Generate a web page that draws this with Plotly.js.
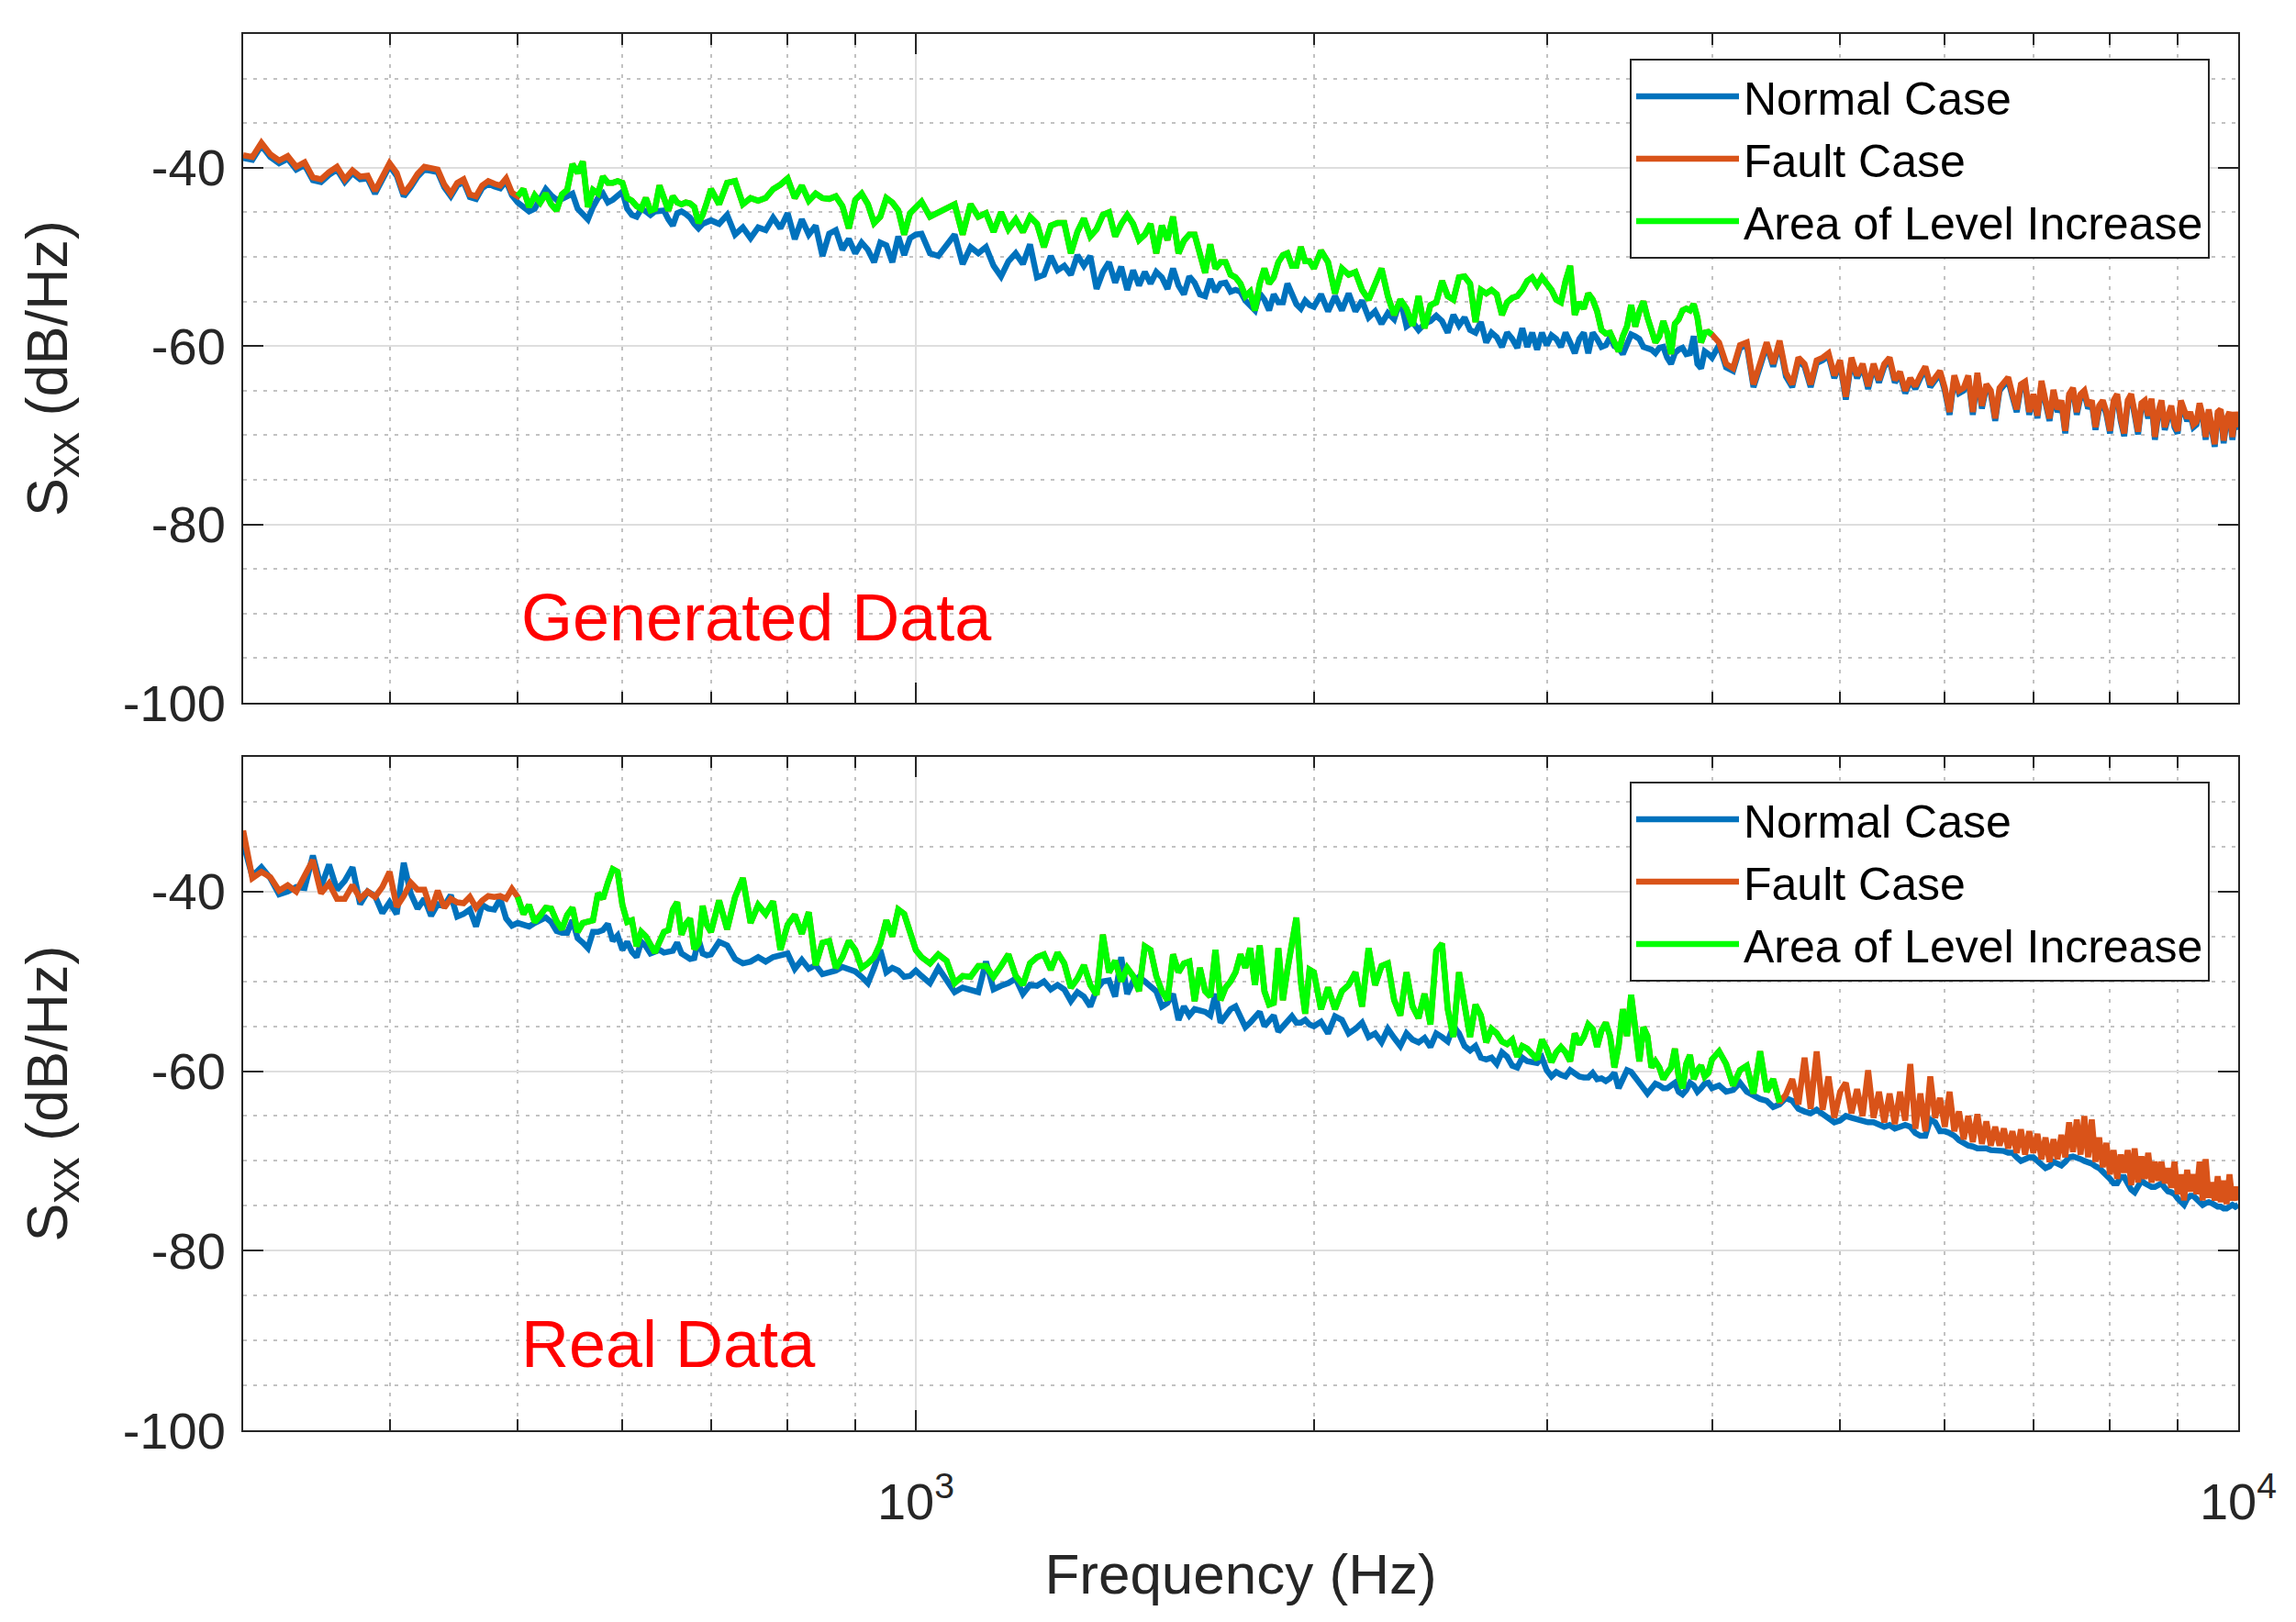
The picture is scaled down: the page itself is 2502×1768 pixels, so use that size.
<!DOCTYPE html>
<html>
<head>
<meta charset="utf-8">
<script src="https://cdn.plot.ly/plotly-3.0.1.min.js"></script>
<style>
html,body{margin:0;padding:0;background:#ffffff;}
#chart{width:2502px;height:1768px;}
</style>
</head>
<body>
<div id="chart"></div>
<script>
// ---------------- data ----------------
const freq = [
310,315,320,325,330,335,340,345,350,355,360,365,370,375,380,385,390,395,400,405,410,415,420,425,430,435,440,445,450,455,460,465,470,475,480,485,490,495,500,
505,510,515,520,525,530,535,540,545,550,555,560,565,570,575,580,585,590,595,600,605,610,615,620,625,630,635,640,645,650,655,660,665,670,675,680,685,690,695,700,
710,720,730,740,750,760,770,780,790,800,810,820,830,840,850,860,870,880,890,900,910,920,930,940,950,960,970,980,990,1000,
1010,1025,1040,1055,1070,1085,1100,1115,1130,1145,1160,1175,1190,1205,1220,1235,1250,1265,1280,1295,1310,1325,1340,1355,1370,1385,1400,1415,1430,1445,1460,1475,1490,1505,1520,1535,1550,1565,1580,1595,1610,1625,1640,1655,1670,1685,1700,1715,1730,1745,1760,1775,1790,1805,1820,1835,1850,1865,1880,1895,1910,1925,1940,1955,1970,1985,2000,
2025,2050,2075,2100,2125,2150,2175,2200,2225,2250,2275,2300,2325,2350,2375,2400,2425,2450,2475,2500,2525,2550,2575,2600,2625,2650,2675,2700,2725,2750,2775,2800,2825,2850,2875,2900,2925,2950,2975,3000,3025,3050,3075,3100,3125,3150,3175,3200,3225,3250,3275,3300,3325,3350,3375,3400,3425,3450,3475,3500,3525,3550,3575,3600,3625,3650,3675,3700,3725,3750,3775,3800,3825,3850,3875,3900,3925,3950,3975,4000,
4050,4100,4150,4200,4250,4300,4350,4400,4450,4500,4550,4600,4650,4700,4750,4800,4850,4900,4950,5000,5050,5100,5150,5200,5250,5300,5350,5400,5450,5500,5550,5600,5650,5700,5750,5800,5850,5900,5950,6000,6050,6100,6150,6200,6250,6300,6350,6400,6450,6500,6550,6600,6650,6700,6750,6800,6850,6900,6950,7000,7050,7100,7150,7200,7250,7300,7350,7400,7450,7500,7550,7600,7650,7700,7750,7800,7850,7900,7950,8000,8050,8100,8150,8200,8250,8300,8350,8400,8450,8500,8550,8600,8650,8700,8750,8800,8850,8900,8950,9000,9050,9100,9150,9200,9250,9300,9350,9400,9450,9500,9550,9600,9650,9700,9750,9800,9850,9900,9950,10000
];

// Generated data (top panel)
const normalGen = [
-38.9,-39.1,-37.5,-38.8,-39.5,-39.0,-40.2,-39.7,-41.4,-41.6,-40.8,-40.2,-41.6,-40.6,-41.3,-41.2,-42.9,-41.3,-39.8,-40.9,-43.2,-42.2,-41.0,-40.2,-40.3,-40.5,-42.2,-43.2,-42.0,-41.6,-43.3,-43.5,-42.3,-41.8,-42.1,-42.3,-41.5,-43.1,-43.9,
-44.4,-44.9,-44.6,-43.6,-42.4,-43.1,-43.6,-43.5,-43.2,-42.9,-44.6,-45.2,-45.8,-44.4,-43.4,-42.9,-43.9,-43.6,-43.2,-42.7,-44.6,-45.3,-45.5,-44.6,-44.9,-45.3,-44.9,-44.8,-44.8,-45.8,-46.5,-45.1,-44.9,-45.2,-45.6,-46.3,-46.8,-46.3,-46.1,-45.9,
-46.3,-45.3,-47.5,-46.7,-47.9,-46.7,-47.0,-45.6,-46.8,-45.1,-48.0,-45.8,-47.5,-46.5,-49.9,-47.4,-47.0,-49.2,-48.0,-49.6,-48.4,-49.2,-50.6,-48.4,-48.7,-50.6,-47.7,-49.8,-47.9,-47.5,
-47.4,-49.6,-49.9,-48.7,-47.5,-50.8,-48.9,-49.6,-48.9,-51.0,-52.2,-50.5,-49.6,-50.8,-48.6,-52.3,-52.0,-49.9,-51.5,-51.0,-52.0,-49.8,-51.0,-49.9,-53.6,-51.7,-50.6,-52.9,-51.1,-53.7,-51.5,-53.2,-51.7,-53.0,-51.7,-52.3,-53.6,-51.3,-53.2,-54.2,-52.2,-52.9,-54.2,-54.4,-52.5,-53.9,-53.0,-52.9,-53.9,-53.7,-53.9,-54.9,-55.4,-56.0,-54.1,-54.8,-56.0,-54.2,-55.1,-55.1,-53.0,-54.4,-55.3,-55.8,-54.9,-55.4,-55.6,
-54.2,-56.1,-54.4,-56.0,-54.1,-56.1,-54.9,-56.8,-56.1,-57.5,-56.3,-57.0,-54.8,-57.8,-57.3,-58.2,-57.5,-57.2,-56.6,-57.2,-58.5,-56.5,-57.7,-56.8,-58.2,-58.5,-57.3,-59.6,-58.5,-59.0,-60.1,-58.5,-59.2,-60.2,-58.0,-60.1,-58.5,-60.4,-58.5,-59.9,-58.8,-59.2,-60.1,-58.5,-59.6,-60.8,-59.2,-58.5,-60.8,-58.5,-59.2,-60.1,-59.9,-59.0,-60.0,-60.2,-60.9,-59.9,-58.7,-58.9,-59.2,-60.1,-60.2,-60.4,-60.8,-60.2,-60.1,-61.3,-62.0,-60.8,-60.4,-60.2,-60.9,-60.8,-58.9,-62.0,-62.5,-60.6,-60.9,-61.3,
-59.9,-62.4,-62.8,-60.2,-59.9,-64.6,-62.3,-59.9,-62.3,-59.7,-63.4,-64.6,-61.6,-62.3,-64.6,-61.9,-61.6,-61.1,-63.6,-61.9,-66.0,-61.6,-63.6,-62.3,-64.8,-62.3,-64.1,-62.3,-61.6,-64.1,-63.2,-65.3,-63.9,-64.8,-63.6,-62.6,-64.6,-63.9,-63.1,-65.0,-67.7,-63.6,-65.3,-65.0,-63.6,-67.7,-63.3,-67.0,-64.6,-65.3,-68.4,-65.0,-64.3,-63.8,-65.7,-67.4,-64.6,-64.3,-67.7,-65.7,-68.1,-64.2,-66.4,-68.4,-65.2,-67.4,-66.4,-69.8,-65.7,-65.0,-67.7,-65.7,-65.3,-67.0,-66.4,-69.4,-67.0,-66.4,-67.7,-69.8,-66.4,-65.7,-68.4,-70.1,-66.4,-65.7,-67.7,-69.9,-66.7,-66.4,-68.1,-66.2,-70.5,-67.7,-66.4,-69.4,-68.1,-67.0,-69.1,-69.8,-66.4,-67.7,-68.4,-67.7,-69.1,-68.8,-66.7,-68.1,-70.5,-67.4,-69.4,-71.3,-67.7,-67.4,-70.9,-68.4,-67.7,-70.5,-67.7,-69.4
];
const faultGen = [
-38.6,-38.8,-37.2,-38.5,-39.2,-38.7,-39.9,-39.4,-41.1,-41.3,-40.5,-39.9,-41.3,-40.3,-41.0,-40.9,-42.6,-41.0,-39.5,-40.6,-42.9,-41.9,-40.7,-39.9,-40.0,-40.2,-41.9,-42.9,-41.7,-41.3,-43.0,-43.2,-42.0,-41.5,-41.8,-42.0,-41.2,-42.8,-43.2,
-42.4,-44.4,-43.1,-43.9,-42.9,-44.1,-44.8,-43.0,-42.5,-39.6,-40.6,-39.3,-44.4,-42.5,-42.9,-41.0,-41.7,-41.7,-41.5,-41.7,-43.4,-43.7,-44.3,-44.6,-43.4,-44.8,-44.6,-42.0,-43.7,-44.8,-43.2,-43.9,-44.1,-43.9,-44.0,-44.4,-46.2,-45.3,-43.9,-42.4,
-44.1,-41.7,-41.5,-44.1,-43.4,-43.7,-43.4,-42.4,-41.9,-41.2,-43.4,-42.0,-43.7,-42.9,-43.4,-43.5,-43.2,-44.3,-46.8,-43.6,-42.9,-44.1,-46.2,-45.5,-43.4,-43.9,-44.8,-47.5,-45.1,-44.4,
-43.8,-45.5,-45.0,-44.6,-44.1,-47.5,-44.1,-45.5,-45.1,-47.2,-45.0,-46.9,-45.8,-47.2,-45.5,-46.3,-48.9,-46.5,-46.2,-46.2,-49.6,-47.2,-45.7,-47.7,-46.9,-45.3,-45.0,-47.7,-46.3,-45.3,-46.3,-48.1,-47.5,-46.3,-49.6,-46.5,-48.1,-45.5,-49.6,-48.2,-47.5,-47.5,-49.6,-51.8,-48.6,-51.3,-50.6,-50.6,-52.0,-52.3,-53.0,-54.4,-53.9,-56.0,-53.0,-51.3,-53.0,-52.3,-50.6,-49.8,-49.6,-51.0,-51.0,-48.9,-50.5,-50.5,-51.3,
-49.3,-50.6,-54.1,-51.3,-52.0,-51.7,-53.7,-54.8,-52.9,-51.3,-54.4,-56.5,-54.8,-55.8,-57.7,-54.4,-58.0,-55.4,-55.1,-52.7,-54.4,-54.8,-52.3,-52.2,-53.0,-57.3,-53.7,-54.1,-53.7,-54.2,-56.5,-55.1,-54.6,-54.4,-53.7,-52.7,-52.3,-53.2,-52.3,-52.9,-53.7,-54.8,-55.1,-52.7,-51.0,-56.5,-55.1,-55.8,-54.1,-54.8,-56.1,-58.2,-58.6,-58.5,-59.7,-60.6,-58.9,-57.8,-55.4,-57.8,-56.1,-55.0,-56.8,-58.2,-59.6,-58.9,-57.2,-58.5,-60.9,-57.5,-57.0,-56.0,-55.8,-56.0,-55.3,-56.8,-59.6,-58.5,-58.4,-58.7,
-59.6,-62.0,-62.5,-59.9,-59.6,-64.3,-62.0,-59.6,-62.0,-59.4,-63.0,-64.3,-61.3,-62.0,-64.3,-61.6,-61.3,-60.8,-63.3,-61.6,-65.7,-61.3,-63.3,-62.0,-64.5,-62.0,-63.8,-62.0,-61.3,-63.8,-62.9,-65.0,-63.6,-64.5,-63.3,-62.3,-64.3,-63.6,-62.8,-64.7,-67.4,-63.3,-65.0,-64.7,-63.3,-67.4,-63.0,-66.7,-64.3,-65.0,-68.1,-64.7,-64.0,-63.5,-65.4,-67.1,-64.3,-64.0,-67.4,-65.4,-67.8,-63.9,-66.1,-68.1,-64.9,-67.1,-66.1,-69.5,-65.4,-64.7,-67.4,-65.4,-65.0,-66.7,-66.1,-69.1,-66.7,-66.1,-67.4,-69.5,-66.1,-65.4,-68.1,-69.8,-66.1,-65.4,-67.4,-69.6,-66.4,-66.1,-67.8,-65.9,-70.2,-67.4,-66.1,-69.1,-67.8,-66.7,-68.8,-69.5,-66.1,-67.4,-68.1,-67.4,-68.8,-68.5,-66.4,-67.8,-70.2,-67.1,-69.1,-71.0,-67.4,-67.1,-70.6,-68.1,-67.4,-70.2,-67.4,-69.1
];

// Real data (bottom panel)
const normalReal = [
-34.6,-38.3,-37.3,-38.5,-40.3,-40.0,-39.5,-39.6,-36.0,-39.5,-37.0,-39.8,-38.8,-37.3,-41.4,-40.0,-40.5,-42.4,-41.2,-42.5,-36.8,-40.2,-41.9,-40.8,-42.7,-41.4,-41.6,-40.4,-42.8,-42.5,-42.0,-43.9,-41.5,-41.9,-42.0,-40.8,-43.0,-43.8,-43.5,
-43.7,-43.9,-43.5,-43.1,-42.9,-43.4,-44.4,-44.6,-44.6,-43.2,-45.2,-45.7,-46.3,-44.5,-44.5,-44.3,-43.6,-45.5,-44.9,-46.5,-45.6,-46.7,-47.3,-45.6,-46.1,-46.9,-46.7,-46.5,-46.8,-46.7,-46.6,-45.7,-46.9,-47.2,-47.5,-47.4,-45.3,-46.9,-47.1,-47.0,
-45.6,-46.0,-47.5,-48.0,-47.8,-47.3,-47.8,-47.3,-47.1,-46.9,-48.6,-47.6,-48.6,-48.2,-49.2,-49.0,-48.8,-48.4,-48.6,-48.9,-49.5,-50.2,-48.5,-46.5,-49.0,-48.5,-48.8,-49.5,-49.4,-48.8,
-49.4,-50.2,-48.5,-50.0,-51.2,-50.7,-50.9,-51.2,-47.8,-50.9,-50.5,-50.2,-49.7,-51.4,-50.4,-50.5,-50.0,-50.9,-50.4,-50.9,-52.2,-51.2,-51.7,-52.8,-50.9,-50.0,-49.9,-51.7,-47.3,-51.4,-50.0,-49.5,-50.0,-50.5,-51.1,-52.8,-52.4,-51.4,-54.3,-52.8,-53.8,-53.1,-53.3,-53.4,-53.8,-51.4,-54.6,-53.8,-53.1,-52.8,-53.9,-55.1,-54.6,-54.1,-53.4,-55.0,-54.5,-53.8,-55.6,-55.0,-54.6,-53.9,-54.6,-54.6,-54.3,-54.8,-55.0,
-54.5,-55.8,-53.9,-54.3,-55.8,-55.3,-54.6,-56.2,-55.8,-56.8,-55.3,-56.3,-57.2,-55.8,-56.5,-56.8,-56.3,-57.3,-55.8,-56.2,-56.7,-55.0,-55.8,-57.2,-57.7,-57.2,-58.5,-58.7,-58.5,-59.2,-57.9,-58.4,-59.4,-59.6,-58.5,-58.9,-59.0,-59.1,-58.5,-59.9,-60.6,-60.1,-60.4,-60.6,-59.9,-60.2,-60.6,-60.7,-60.7,-60.2,-60.9,-60.8,-61.1,-60.8,-60.2,-61.9,-60.9,-59.9,-60.1,-60.8,-61.3,-61.9,-62.5,-61.9,-61.4,-61.6,-61.9,-61.9,-61.6,-61.3,-62.3,-62.6,-62.1,-61.3,-61.6,-62.3,-61.9,-61.4,-61.3,-61.9,
-61.6,-62.3,-62.1,-61.3,-62.3,-62.8,-63.1,-63.3,-64.0,-63.7,-63.0,-63.3,-64.2,-64.5,-64.7,-64.3,-64.8,-65.4,-65.7,-65.5,-65.0,-65.2,-65.4,-65.5,-65.7,-65.7,-66.0,-66.2,-66.0,-66.4,-66.2,-66.0,-66.2,-66.9,-67.2,-67.2,-65.4,-65.7,-66.7,-66.7,-66.9,-67.2,-67.7,-68.1,-68.3,-68.4,-68.6,-68.6,-68.6,-68.8,-68.8,-68.8,-68.9,-69.1,-69.1,-69.6,-70.0,-69.8,-69.6,-69.6,-70.0,-70.3,-70.8,-70.6,-70.1,-70.3,-70.5,-70.1,-69.6,-69.5,-69.6,-69.8,-70.0,-70.1,-70.3,-70.6,-70.8,-71.2,-71.5,-72.0,-72.5,-72.5,-71.8,-71.8,-72.5,-73.2,-73.5,-72.9,-72.2,-72.5,-72.7,-72.9,-72.9,-72.7,-72.5,-73.0,-73.4,-73.5,-73.7,-74.2,-74.6,-74.9,-74.2,-73.9,-73.9,-74.2,-74.7,-74.9,-74.7,-74.6,-74.7,-74.9,-75.1,-75.1,-75.3,-75.3,-75.1,-74.9,-75.1,-74.9
];
const faultReal = [
-33.2,-38.5,-37.8,-38.4,-39.9,-39.3,-40.0,-38.2,-36.5,-40.2,-39.1,-40.8,-40.8,-39.3,-40.8,-40.0,-40.6,-39.5,-37.8,-41.7,-40.5,-39.0,-39.8,-39.8,-42.1,-39.9,-41.8,-40.8,-41.2,-41.3,-40.6,-41.8,-41.0,-40.5,-40.6,-40.5,-40.8,-39.7,-40.6,
-42.5,-41.5,-43.4,-42.7,-41.8,-41.9,-43.3,-44.2,-42.6,-41.8,-44.5,-43.5,-43.3,-43.2,-40.2,-40.8,-39.0,-37.5,-37.8,-41.5,-43.4,-43.2,-46.1,-44.5,-45.0,-45.8,-46.8,-45.6,-44.5,-44.3,-42.0,-41.2,-44.8,-43.6,-43.0,-46.4,-45.8,-41.6,-43.7,-44.5,
-41.0,-44.2,-40.6,-38.5,-43.5,-41.5,-42.5,-41.1,-46.5,-43.7,-42.6,-44.7,-42.3,-48.2,-45.7,-45.5,-48.5,-47.3,-45.5,-46.5,-48.5,-48.0,-47.3,-45.8,-43.2,-45.0,-42.0,-42.5,-44.7,-46.5,
-47.3,-48.0,-47.0,-47.7,-50.2,-49.4,-49.5,-48.3,-48.3,-49.5,-48.3,-47.0,-49.4,-50.4,-48.0,-47.3,-47.0,-48.7,-46.8,-48.0,-50.7,-49.7,-48.2,-50.4,-51.5,-44.8,-49.0,-47.7,-50.0,-48.5,-49.4,-51.1,-46.1,-46.5,-49.4,-51.1,-52.1,-47.0,-49.0,-48.0,-47.8,-52.2,-48.5,-51.1,-51.7,-46.5,-52.1,-50.7,-50.0,-49.0,-47.0,-48.5,-46.3,-50.4,-46.0,-51.1,-52.6,-52.4,-46.3,-52.1,-48.7,-45.3,-42.9,-50.0,-53.6,-48.7,-49.0,
-53.1,-50.7,-53.1,-51.1,-50.4,-49.0,-52.8,-46.3,-50.4,-48.3,-48.0,-52.1,-53.8,-49.0,-52.8,-54.1,-51.4,-54.8,-46.6,-45.8,-53.1,-56.2,-49.0,-53.1,-56.2,-52.6,-53.8,-56.8,-55.3,-55.8,-56.7,-57.0,-56.5,-58.4,-57.2,-57.5,-58.0,-58.7,-56.5,-57.5,-59.0,-57.9,-57.3,-57.9,-58.9,-55.8,-57.0,-56.2,-54.8,-55.3,-57.3,-55.5,-54.6,-56.1,-59.6,-57.2,-53.1,-56.1,-51.5,-55.5,-58.9,-55.1,-56.1,-59.6,-58.9,-59.6,-60.9,-60.2,-59.6,-57.5,-60.6,-61.9,-59.2,-58.2,-60.9,-59.9,-59.4,-60.6,-60.2,-58.7,
-57.8,-59.2,-61.6,-59.9,-59.4,-62.5,-57.8,-62.3,-60.9,-63.5,
-62.6,-60.9,-63.7,-58.5,-64.2,-57.8,-64.3,-60.6,-65.2,-62.3,
-61.3,-64.7,-62.0,-65.0,-59.9,-65.2,-62.3,-65.7,-62.5,-65.9,
-62.3,-65.5,-59.2,-66.4,-62.5,-66.7,-60.6,-65.2,-63.0,-66.2,
-62.3,-66.7,-64.5,-67.6,-65.0,-67.9,-64.8,-68.1,-65.6,-68.3,
-66.2,-68.3,-66.4,-68.6,-66.7,-69.1,-66.5,-69.3,-66.7,-69.1,
-67.0,-69.8,-67.4,-70.1,-67.6,-69.8,-67.1,-69.6,-65.7,-69.0,
-65.4,-69.3,-65.0,-69.6,-65.4,-70.1,-67.4,-70.7,-68.0,-71.5,
-68.8,-72.0,-69.3,-71.3,-68.8,-72.7,-68.6,-72.4,-69.5,-72.0,
-69.1,-72.4,-70.1,-72.2,-70.1,-72.5,-70.8,-73.0,-70.1,-73.7,
-71.5,-74.4,-71.0,-73.4,-71.5,-73.7,-70.1,-74.4,-69.8,-74.1,
-72.4,-74.4,-71.7,-74.6,-72.2,-74.8,-71.5,-74.4,-72.9,-74.4
];

// frequency span highlighted as "Area of Level Increase" in each panel
const increaseSpanGen  = [500, 4000];
const increaseSpanReal = [500, 4500];

const seriesNames = ['Normal Case', 'Fault Case', 'Area of Level Increase'];
const panelLabels = ['Generated Data', 'Real Data'];
const xTickVals = [1000, 10000];
const xTickText = ['10<sup>3</sup>', '10<sup>4</sup>'];
const xMinorVals = [400, 500, 600, 700, 800, 900, 2000, 3000, 4000, 5000, 6000, 7000, 8000, 9000];
const yTickVals = [-100, -80, -60, -40];
const yTickText = ['-100', '-80', '-60', '-40'];
const yMinorVals = [-95, -90, -85, -75, -70, -65, -55, -50, -45, -35, -30];
const xLimits = [310, 10000];
const yLimits = [-100, -25];

// ---------------- styles ----------------
const FONT = 'Liberation Sans, Arial, Helvetica, sans-serif';
const AX = '#262626';
const colors = ['#0072BD', '#D95319', '#00FF00'];
const LW = 6.5;

function subset(xs, ys, span) {
  const ox = [], oy = [];
  for (let i = 0; i < xs.length; i++) {
    if (xs[i] >= span[0] && xs[i] <= span[1]) { ox.push(xs[i]); oy.push(ys[i]); }
  }
  return {x: ox, y: oy};
}

function panelTraces(normal, fault, span, xa, ya, leg) {
  const inc = subset(freq, fault, span);
  return [
    {type: 'scatter', mode: 'lines', x: freq, y: normal, name: seriesNames[0],
     line: {color: colors[0], width: LW}, xaxis: xa, yaxis: ya, legend: leg, hoverinfo: 'skip'},
    {type: 'scatter', mode: 'lines', x: freq, y: fault, name: seriesNames[1],
     line: {color: colors[1], width: LW}, xaxis: xa, yaxis: ya, legend: leg, hoverinfo: 'skip'},
    {type: 'scatter', mode: 'lines', x: inc.x, y: inc.y, name: seriesNames[2],
     line: {color: colors[2], width: LW}, xaxis: xa, yaxis: ya, legend: leg, hoverinfo: 'skip'}
  ];
}

const traces = [].concat(
  panelTraces(normalGen, faultGen, increaseSpanGen, 'x', 'y', 'legend'),
  panelTraces(normalReal, faultReal, increaseSpanReal, 'x2', 'y2', 'legend2')
);

const xDomain = [265 / 2502, 2439 / 2502];

function xAxis(anchor, labels) {
  return {
    type: 'log', range: [Math.log10(xLimits[0]), Math.log10(xLimits[1])], domain: xDomain, anchor: anchor,
    tickmode: 'array', tickvals: xTickVals, ticktext: xTickText, showticklabels: labels,
    ticks: 'inside', ticklen: 22, tickwidth: 2, tickcolor: AX,
    showline: true, linecolor: AX, linewidth: 2, mirror: 'allticks',
    showgrid: true, gridcolor: '#dedede', gridwidth: 2, zeroline: false,
    minor: {tickmode: 'array', tickvals: xMinorVals, ticks: 'inside', ticklen: 12, tickwidth: 2, tickcolor: AX,
            showgrid: true, gridcolor: '#c2c2c2', gridwidth: 2, griddash: '4px,7px'},
    tickfont: {family: FONT, size: 56, color: AX},
    ticklabelstandoff: 28
  };
}
function yAxis(anchor, domain) {
  return {
    range: yLimits, domain: domain, anchor: anchor,
    tickmode: 'array', tickvals: yTickVals, ticktext: yTickText,
    ticks: 'inside', ticklen: 22, tickwidth: 2, tickcolor: AX,
    showline: true, linecolor: AX, linewidth: 2, mirror: 'allticks',
    showgrid: true, gridcolor: '#dedede', gridwidth: 2, zeroline: false,
    minor: {tickmode: 'array', tickvals: yMinorVals, ticks: '', showgrid: true,
            gridcolor: '#c2c2c2', gridwidth: 2, griddash: '4px,7px'},
    tickfont: {family: FONT, size: 56, color: AX},
    ticklabelstandoff: 6,
    title: {text: 'S<sub><span style="font-size:50px">xx</span></sub> (dB/Hz)',
            font: {family: FONT, size: 63, color: AX}, standoff: 40}
  };
}

const legendStyle = {
  bgcolor: '#ffffff', bordercolor: AX, borderwidth: 2,
  font: {family: FONT, size: 50, color: '#000000'},
  xref: 'paper', yref: 'paper', xanchor: 'right', yanchor: 'top',
  itemwidth: 112, tracegroupgap: 0
};

const layout = {
  width: 2502, height: 1768,
  margin: {l: 0, r: 0, t: 0, b: 0},
  paper_bgcolor: '#ffffff', plot_bgcolor: '#ffffff',
  showlegend: true,
  xaxis: xAxis('y', false),
  yaxis: yAxis('x', [1 - 766 / 1768, 1 - 37 / 1768]),
  xaxis2: Object.assign(xAxis('y2', true), {
    title: {text: 'Frequency (Hz)', font: {family: FONT, size: 62, color: AX}, standoff: 26}
  }),
  yaxis2: yAxis('x2', [1 - 1559 / 1768, 1 - 825 / 1768]),
  legend: Object.assign({}, legendStyle, {x: 2408 / 2502, y: 1 - 64 / 1768}),
  legend2: Object.assign({}, legendStyle, {x: 2408 / 2502, y: 1 - 852 / 1768}),
  annotations: [
    {text: panelLabels[0], xref: 'paper', yref: 'paper', x: 566 / 2502, y: 1 - 673 / 1768,
     xanchor: 'left', yanchor: 'middle', showarrow: false, font: {family: FONT, size: 72, color: '#FF0000'}},
    {text: panelLabels[1], xref: 'paper', yref: 'paper', x: 566 / 2502, y: 1 - 1465 / 1768,
     xanchor: 'left', yanchor: 'middle', showarrow: false, font: {family: FONT, size: 72, color: '#FF0000'}}
  ]
};

Plotly.newPlot('chart', traces, layout, {staticPlot: true, displayModeBar: false});
</script>
</body>
</html>
